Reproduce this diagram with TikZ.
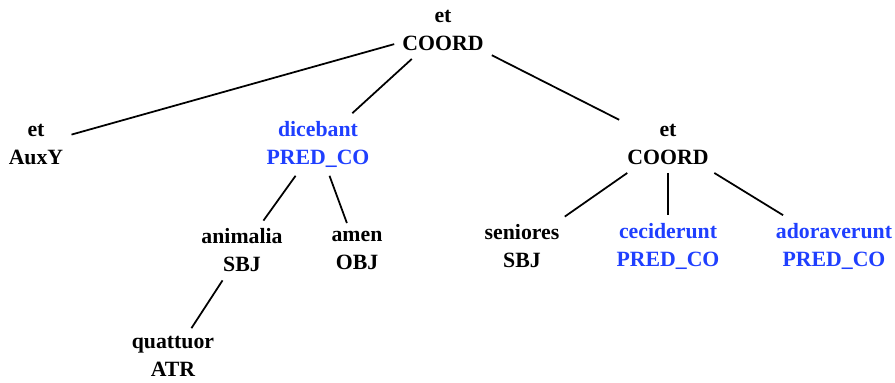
\documentclass[tikz,border=0pt]{standalone}
\usepackage{fontspec}
\setmainfont{Liberation Serif}
\usepackage{xcolor}
\usetikzlibrary{positioning}
\definecolor{predblue}{RGB}{31,63,255}
\tikzset{word/.style={align=center,inner sep=4.5pt,font=\fontsize{12.4}{15.9}\selectfont\bfseries},pred/.style={word,text=predblue},link/.style={draw=black,line width=1pt}}
\begin{document}
\begin{tikzpicture}[x=0.02cm,y=-0.02cm]
\useasboundingbox (0,0) rectangle (895,382);
\node[word] (root) at (443,30.5) {et\\COORD};
\node[word] (auxy) at (36,144.5) {et\\AuxY};
\node[pred] (dicebant) at (318,144.5) {dicebant\\PRED\_CO};
\node[word] (coord) at (668,144.5) {et\\COORD};
\node[word] (animalia) at (242,250.5) {animalia\\SBJ};
\node[word] (amen) at (357,250.5) {amen\\OBJ};
\node[word] (quattuor) at (173,356.5) {quattuor\\ATR};
\node[word] (seniores) at (522,246.5) {seniores\\SBJ};
\node[pred] (ceciderunt) at (668,246.5) {ceciderunt\\PRED\_CO};
\node[pred] (adoraverunt) at (834,246.5) {adoraverunt\\PRED\_CO};
\draw[link] (root) -- (auxy);\draw[link] (root) -- (dicebant);\draw[link] (root) -- (coord);
\draw[link] (dicebant) -- (animalia);\draw[link] (dicebant) -- (amen);
\draw[link] (animalia) -- (quattuor);
\draw[link] (coord) -- (seniores);\draw[link] (coord) -- (ceciderunt);\draw[link] (coord) -- (adoraverunt);
\end{tikzpicture}
\end{document}
